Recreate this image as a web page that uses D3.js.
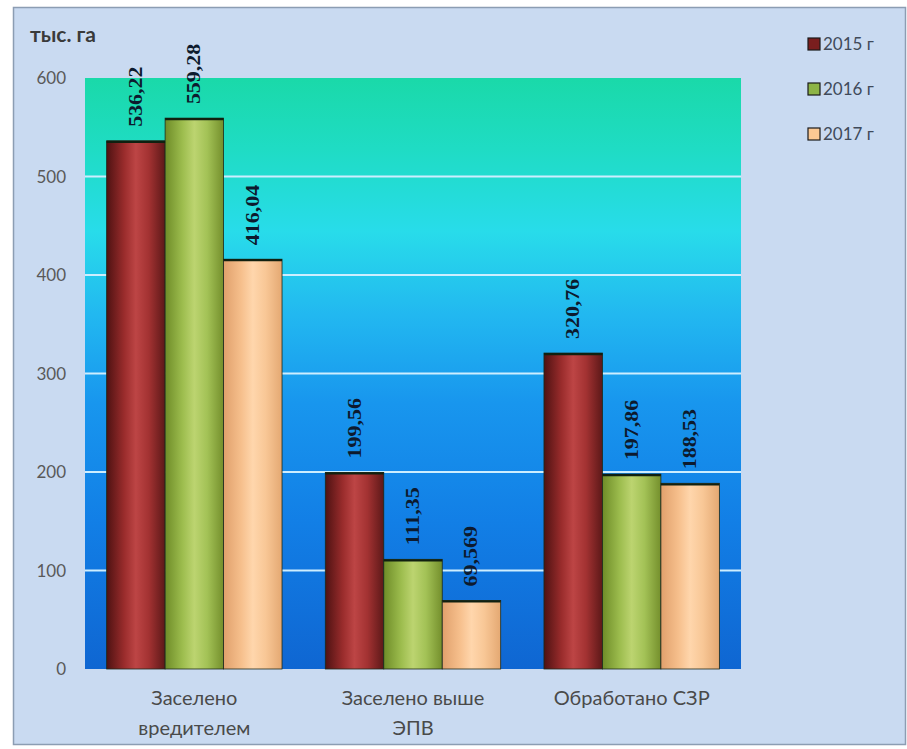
<!DOCTYPE html>
<html>
<head>
<meta charset="utf-8">
<script src="https://cdn.jsdelivr.net/npm/d3@7"></script>
<style>
  html, body { margin: 0; padding: 0; background: #ffffff; }
  svg { display: block; }
</style>
</head>
<body>
<svg id="chart" width="907" height="749"></svg>
<script>
// Площади: заселено вредителем, выше ЭПВ, обработано СЗР (тыс. га)
const categories = [["Заселено", "вредителем"], ["Заселено выше", "ЭПВ"], ["Обработано СЗР"]];
const years = ["2015 г", "2016 г", "2017 г"];
const values2015 = [536.22, 199.56, 320.76];
const values2016 = [559.28, 111.35, 197.86];
const values2017 = [416.04, 69.569, 188.53];
const valueLabels2015 = ["536,22", "199,56", "320,76"];
const valueLabels2016 = ["559,28", "111,35", "197,86"];
const valueLabels2017 = ["416,04", "69,569", "188,53"];
const yTicks = [0, 100, 200, 300, 400, 500, 600];
const unitLabel = "тыс. га";

const series = [values2015, values2016, values2017];
const seriesLabels = [valueLabels2015, valueLabels2016, valueLabels2017];

const svg = d3.select("#chart");
const defs = svg.append("defs");

// Chart frame
svg.append("rect")
  .attr("x", 13.5).attr("y", 7.5).attr("width", 892).attr("height", 737)
  .attr("fill", "#c9daf1").attr("stroke", "#8c9db3").attr("stroke-width", 1.5);

const plot = { left: 85, right: 741, top: 78, bottom: 669 };

const x0 = d3.scaleBand().domain(d3.range(categories.length))
  .range([plot.left, plot.right]).paddingInner(0).paddingOuter(0);
const x1 = d3.scaleBand().domain(d3.range(years.length))
  .range([0, x0.bandwidth()]).paddingInner(0).paddingOuter(0.37);
const y = d3.scaleLinear().domain([0, 600]).range([plot.bottom, plot.top]);

// Plot background gradient
const bg = defs.append("linearGradient").attr("id", "bgGrad")
  .attr("x1", 0).attr("y1", 0).attr("x2", 0).attr("y2", 1);
[[0, "#1ad9a9"], [0.12, "#1fdcc4"], [0.26, "#28dcea"], [0.40, "#22b8f0"],
 [0.55, "#1896ee"], [0.75, "#127fe6"], [1, "#0f66d2"]]
  .forEach(([o, c]) => bg.append("stop").attr("offset", o).attr("stop-color", c));

svg.append("rect")
  .attr("x", plot.left).attr("y", plot.top)
  .attr("width", plot.right - plot.left).attr("height", plot.bottom - plot.top)
  .attr("fill", "url(#bgGrad)");

// Gridlines
svg.append("g").selectAll("line")
  .data(yTicks.filter(t => t > 0 && t < 600))
  .join("line")
  .attr("x1", plot.left).attr("x2", plot.right)
  .attr("y1", d => y(d)).attr("y2", d => y(d))
  .attr("stroke", "#cdeeff").attr("stroke-width", 2);

// Cylinder-like bar fills
const barStops = [
  [[0, "#4e1212"], [0.3, "#9a2c2c"], [0.5, "#bd4545"], [0.72, "#a33232"], [1, "#5c1818"]],
  [[0, "#6e8c28"], [0.3, "#9dbd4e"], [0.5, "#bcd470"], [0.72, "#a3c256"], [1, "#748f2c"]],
  [[0, "#e0a06c"], [0.3, "#f6bf8c"], [0.5, "#ffd6ac"], [0.72, "#f8c796"], [1, "#e4a872"]]
];
barStops.forEach((stops, i) => {
  const g = defs.append("linearGradient").attr("id", "barGrad" + i)
    .attr("x1", 0).attr("y1", 0).attr("x2", 1).attr("y2", 0);
  stops.forEach(([o, c]) => g.append("stop").attr("offset", o).attr("stop-color", c));
});

const barData = [];
categories.forEach((c, ci) => {
  series.forEach((s, si) => {
    barData.push({ ci, si, v: s[ci], label: seriesLabels[si][ci] });
  });
});

svg.append("g").selectAll("rect")
  .data(barData)
  .join("rect")
  .attr("x", d => x0(d.ci) + x1(d.si))
  .attr("y", d => y(d.v))
  .attr("width", x1.bandwidth())
  .attr("height", d => y(0) - y(d.v))
  .attr("fill", d => "url(#barGrad" + d.si + ")")
  .attr("stroke", "#1c2a1c").attr("stroke-width", 0.8);

// Dark top edges of the bars
svg.append("g").selectAll("line")
  .data(barData)
  .join("line")
  .attr("x1", d => x0(d.ci) + x1(d.si))
  .attr("x2", d => x0(d.ci) + x1(d.si) + x1.bandwidth())
  .attr("y1", d => y(d.v) + 1).attr("y2", d => y(d.v) + 1)
  .attr("stroke", "#102010").attr("stroke-width", 2.2);

// Vertical value labels
svg.append("g").selectAll("text")
  .data(barData)
  .join("text")
  .attr("transform", d => {
    const cx = x0(d.ci) + x1(d.si) + x1.bandwidth() / 2 + 6;
    return `translate(${cx},${y(d.v) - 14}) rotate(-90) scale(1.22,1)`;
  })
  .attr("font-family", "'Liberation Serif', 'Times New Roman', serif")
  .attr("font-weight", "bold")
  .attr("font-size", 18)
  .attr("fill", "#0d1a2e")
  .text(d => d.label);

// Y-axis tick labels
const yAxis = d3.axisLeft(y).tickValues(yTicks).tickSize(0).tickPadding(0);
const yG = svg.append("g").attr("transform", `translate(66,0)`).call(yAxis);
yG.select(".domain").remove();
yG.selectAll("text")
  .attr("font-family", "Lato, 'Open Sans', sans-serif")
  .attr("font-size", 17).attr("fill", "#595959").attr("dy", "0.35em");

// Category labels
const xG = svg.append("g");
categories.forEach((lines, ci) => {
  const t = xG.append("text")
    .attr("x", x0(ci) + x0.bandwidth() / 2)
    .attr("y", 705)
    .attr("text-anchor", "middle")
    .attr("font-family", "Lato, 'Open Sans', sans-serif")
    .attr("font-size", 20).attr("fill", "#4a4a4a");
  lines.forEach((ln, li) => {
    t.append("tspan").attr("x", x0(ci) + x0.bandwidth() / 2)
      .attr("dy", li === 0 ? 0 : 30).text(ln);
  });
});

// Unit label
svg.append("text")
  .attr("x", 30).attr("y", 42)
  .attr("font-family", "Lato, 'Open Sans', sans-serif")
  .attr("font-weight", "bold").attr("font-size", 21)
  .attr("fill", "#3a3a3a").text(unitLabel);

// Legend
const legendFill = ["#7a1e1e", "#8db446", "#fbc893"];
const lg = svg.append("g").selectAll("g")
  .data(years).join("g")
  .attr("transform", (d, i) => `translate(808,${44 + i * 45})`);
lg.append("rect")
  .attr("x", 0).attr("y", -6).attr("width", 12).attr("height", 12)
  .attr("fill", (d, i) => legendFill[i]).attr("stroke", "#1a1a1a").attr("stroke-width", 1.2);
lg.append("text")
  .attr("x", 15).attr("y", 0).attr("dy", "0.35em")
  .attr("font-family", "Lato, 'Open Sans', sans-serif")
  .attr("font-size", 17).attr("fill", "#404a5a")
  .text(d => d);
</script>
</body>
</html>
